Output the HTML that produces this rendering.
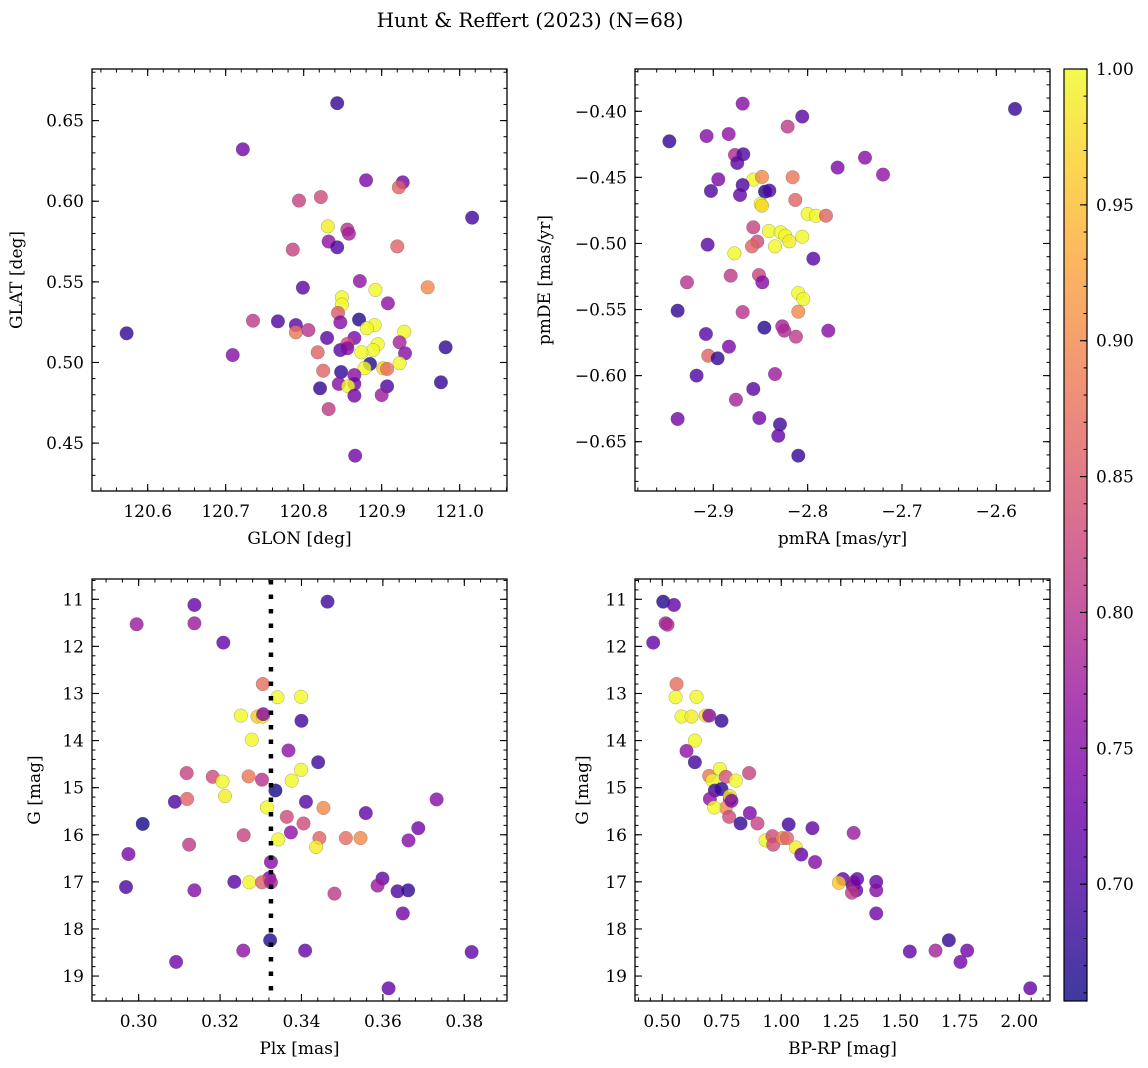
<!DOCTYPE html>
<html><head><meta charset="utf-8"><title>Hunt & Reffert (2023)</title>
<style>
html,body{margin:0;padding:0;background:#fff;}
svg{display:block;font-family:"DejaVu Serif","Liberation Serif",serif;}
</style></head>
<body>
<svg id="fig" width="1148" height="1068" viewBox="0 0 1148 1068" xmlns="http://www.w3.org/2000/svg">
<defs>
<linearGradient id="plasmaGrad" x1="0" y1="1" x2="0" y2="0">
<stop offset="0" stop-color="#0d0887"/><stop offset="0.1" stop-color="#41049d"/><stop offset="0.2" stop-color="#6a00a8"/><stop offset="0.3" stop-color="#8f0da4"/><stop offset="0.4" stop-color="#b12a90"/><stop offset="0.5" stop-color="#cc4778"/><stop offset="0.6" stop-color="#e16462"/><stop offset="0.7" stop-color="#f2844b"/><stop offset="0.8" stop-color="#fca636"/><stop offset="0.9" stop-color="#fcce25"/><stop offset="1" stop-color="#f0f921"/>
</linearGradient>
</defs>
<text x="530" y="27" text-anchor="middle" font-size="20" fill="#000">Hunt &amp; Reffert (2023) (N=68)</text>
</svg>
<script>
// ---- Panel 1: GLON vs GLAT ----
const p1Glon=[120.843,120.722,120.880,120.927,120.922,120.794,120.822,121.016,120.831,120.856,120.858,120.832,120.843,120.786,120.920,120.872,120.799,120.892,120.959,120.849,120.849,120.908,120.844,120.735,120.767,120.847,120.871,120.891,120.881,120.790,120.790,120.806,120.573,120.929,120.830,120.865,120.856,120.847,120.856,120.895,120.889,120.923,120.930,120.874,120.818,120.982,120.709,120.885,120.878,120.902,120.907,120.923,120.825,120.848,120.865,120.845,120.865,120.857,120.821,120.907,120.865,120.900,120.976,120.832,120.866];
const p1Glat=[0.6608,0.6322,0.613,0.6117,0.6086,0.6004,0.6026,0.5898,0.5844,0.5824,0.5799,0.575,0.5714,0.570,0.572,0.5505,0.5464,0.545,0.5466,0.5404,0.5359,0.5367,0.5307,0.5259,0.5255,0.5249,0.5266,0.5232,0.5212,0.5232,0.5187,0.5201,0.5181,0.5191,0.5152,0.5152,0.5115,0.5077,0.5088,0.5113,0.5077,0.5125,0.5057,0.5063,0.5063,0.5094,0.5046,0.4991,0.4964,0.4964,0.496,0.4995,0.4949,0.4941,0.4922,0.4867,0.4867,0.4852,0.484,0.4852,0.4794,0.4798,0.4877,0.4711,0.4422];
const p1Prob=[0.68,0.73,0.74,0.73,0.86,0.82,0.83,0.69,0.99,0.80,0.78,0.76,0.70,0.82,0.86,0.76,0.71,1.0,0.90,1.0,1.0,0.76,0.85,0.81,0.70,0.75,0.67,1.0,1.0,0.71,0.88,0.80,0.68,1.0,0.71,0.74,0.83,0.71,0.75,1.0,1.0,0.78,0.75,1.0,0.86,0.68,0.75,0.67,1.0,0.97,0.87,1.0,0.86,0.68,0.75,0.75,0.73,1.0,0.68,0.70,0.73,0.77,0.68,0.81,0.73];
const p1XTicks=[120.6,120.7,120.8,120.9,121.0];
const p1YTicks=[0.45,0.50,0.55,0.60,0.65];

// ---- Panel 2: pmRA vs pmDE ----
const p2PmRA=[-2.8689,-2.5802,-2.8057,-2.8212,-2.9466,-2.9071,-2.8837,-2.877,-2.8682,-2.8746,-2.7392,-2.7682,-2.7201,-2.8947,-2.8576,-2.8484,-2.8159,-2.8689,-2.9025,-2.8717,-2.8452,-2.8406,-2.8131,-2.8498,-2.8484,-2.8,-2.7912,-2.7806,-2.8576,-2.841,-2.8286,-2.8237,-2.8057,-2.8194,-2.8346,-2.8534,-2.859,-2.906,-2.8777,-2.794,-2.9279,-2.8816,-2.8516,-2.848,-2.8099,-2.8046,-2.8099,-2.9378,-2.8689,-2.8459,-2.8269,-2.8247,-2.8124,-2.7781,-2.9078,-2.8834,-2.9053,-2.8954,-2.9177,-2.8346,-2.8576,-2.876,-2.9378,-2.8512,-2.8293,-2.8311,-2.8099];
const p2PmDE=[-0.3942,-0.3982,-0.404,-0.4116,-0.4227,-0.4187,-0.4172,-0.433,-0.4325,-0.4391,-0.4351,-0.4426,-0.4479,-0.4515,-0.4517,-0.4497,-0.4499,-0.4558,-0.4603,-0.4633,-0.4608,-0.46,-0.4671,-0.4701,-0.4714,-0.4777,-0.479,-0.479,-0.4878,-0.4906,-0.4916,-0.4941,-0.4949,-0.4984,-0.5022,-0.4986,-0.5022,-0.5009,-0.5075,-0.5115,-0.5294,-0.5244,-0.5239,-0.5294,-0.5375,-0.542,-0.5516,-0.5509,-0.5519,-0.5637,-0.5627,-0.566,-0.5705,-0.566,-0.5685,-0.5781,-0.5849,-0.5869,-0.6,-0.5988,-0.6101,-0.6182,-0.6328,-0.6321,-0.6369,-0.6455,-0.6606];
const p2Prob=[0.75,0.68,0.71,0.81,0.68,0.75,0.76,0.79,0.70,0.71,0.75,0.74,0.76,0.74,1.0,0.90,0.88,0.70,0.70,0.72,0.67,0.70,0.86,1.0,0.97,1.0,1.0,0.86,0.82,1.0,1.0,1.0,1.0,0.99,1.0,0.83,0.86,0.71,1.0,0.71,0.80,0.81,0.82,0.75,1.0,1.0,0.90,0.68,0.80,0.67,0.78,0.79,0.81,0.75,0.71,0.74,0.86,0.68,0.70,0.77,0.71,0.78,0.73,0.73,0.69,0.72,0.68];
const p2XTicks=[-2.9,-2.8,-2.7,-2.6];
const p2YTicks=[-0.40,-0.45,-0.50,-0.55,-0.60,-0.65];

// ---- Panel 3: Plx vs G ----
const p3Plx=[0.3137,0.2995,0.3137,0.3208,0.3464,0.3305,0.3341,0.3399,0.3251,0.3292,0.3305,0.3306,0.3400,0.3278,0.3368,0.3441,0.3118,0.3182,0.3206,0.3270,0.3303,0.3376,0.3399,0.3336,0.3089,0.3119,0.3212,0.3411,0.3732,0.3454,0.3315,0.3558,0.3010,0.3364,0.3405,0.3374,0.3258,0.3343,0.3444,0.3509,0.3545,0.3687,0.3663,0.3436,0.3124,0.2975,0.3325,0.3321,0.3235,0.3272,0.3303,0.3325,0.2969,0.3137,0.3481,0.3599,0.3587,0.3636,0.3662,0.3649,0.3323,0.3257,0.3409,0.3818,0.3092,0.3614];
const p3G=[11.12,11.53,11.51,11.92,11.05,12.80,13.08,13.07,13.47,13.49,13.49,13.44,13.58,13.98,14.21,14.46,14.69,14.77,14.87,14.76,14.83,14.85,14.62,15.06,15.30,15.24,15.18,15.30,15.25,15.43,15.42,15.54,15.77,15.62,15.76,15.95,16.01,16.10,16.07,16.07,16.07,15.86,16.12,16.26,16.21,16.41,16.58,16.92,17.0,17.01,17.01,17.01,17.11,17.18,17.25,16.93,17.08,17.20,17.18,17.67,18.24,18.46,18.46,18.49,18.70,19.26];
const p3Prob=[0.72,0.77,0.77,0.72,0.69,0.87,1.0,1.0,1.0,0.96,0.99,0.75,0.69,1.0,0.76,0.69,0.82,0.83,1.0,0.88,0.80,1.0,1.0,0.66,0.70,0.86,0.99,0.71,0.75,0.90,1.0,0.72,0.66,0.83,0.83,0.76,0.82,1.0,0.86,0.87,0.90,0.73,0.75,0.99,0.81,0.74,0.75,0.74,0.71,1.0,0.86,0.78,0.70,0.75,0.81,0.72,0.77,0.70,0.68,0.73,0.67,0.76,0.72,0.72,0.73,0.72];
const p3XTicks=[0.30,0.32,0.34,0.36,0.38];
const p3YTicks=[11,12,13,14,15,16,17,18,19];
const plxMean=[0.3325];

// ---- Panel 4: BP-RP vs G ----
const p4BpRp=[0.504,0.549,0.514,0.522,0.462,0.56,0.556,0.644,0.581,0.623,0.683,0.697,0.749,0.637,0.602,0.637,0.865,0.697,0.742,0.767,0.711,0.809,0.749,0.721,0.784,0.70,0.784,0.767,0.718,0.781,0.829,0.868,0.90,1.031,1.131,1.304,0.934,0.963,0.966,1.005,1.024,1.061,1.084,1.142,1.259,1.242,1.301,1.315,1.304,1.297,1.319,1.399,1.399,1.399,1.540,1.648,1.704,1.753,1.781,2.046,0.791];
const p4G=[11.05,11.12,11.51,11.54,11.92,12.80,13.08,13.07,13.49,13.49,13.47,13.47,13.58,14.0,14.22,14.46,14.69,14.75,14.60,14.77,14.85,14.85,15.03,15.06,15.24,15.24,15.18,15.43,15.42,15.62,15.76,15.54,15.76,15.78,15.86,15.96,16.12,16.03,16.21,16.07,16.07,16.27,16.42,16.58,16.94,17.02,17.08,17.18,17.01,17.23,16.94,17.0,17.18,17.67,18.48,18.46,18.24,18.70,18.46,19.26,15.28];
const p4Prob=[0.67,0.72,0.78,0.79,0.72,0.87,1.0,1.0,1.0,0.99,0.98,0.75,0.68,1.0,0.76,0.69,0.82,0.88,1.0,0.84,1.0,1.0,0.67,0.69,0.72,0.76,0.98,0.90,1.0,0.83,0.68,0.74,0.82,0.69,0.72,0.77,1.0,0.83,0.83,0.90,0.86,0.99,0.72,0.75,0.72,0.96,0.68,0.72,0.78,0.81,0.72,0.72,0.75,0.73,0.72,0.78,0.68,0.73,0.73,0.72,0.74];
const p4XTicks=[0.50,0.75,1.00,1.25,1.50,1.75,2.00];
const p4YTicks=[11,12,13,14,15,16,17,18,19];

// ---- Colorbar ----
const cbarTicks=[0.70,0.75,0.80,0.85,0.90,0.95,1.00];
const cbarRange=[0.657,1.0];

const NS="http://www.w3.org/2000/svg";
const svg=document.getElementById('fig');
function mk(tag,attrs,parent){const e=document.createElementNS(NS,tag);for(const k in attrs)e.setAttribute(k,attrs[k]);(parent||svg).appendChild(e);return e;}
function lin(d0,d1,r0,r1){return v=>r0+(v-d0)/(d1-d0)*(r1-r0);}
const plasma=[[13,8,135],[65,4,157],[106,0,168],[143,13,164],[177,42,144],[204,71,120],[225,100,98],[242,132,75],[252,166,54],[252,206,37],[240,249,33]];
function cmap(v){let t=(v-cbarRange[0])/(cbarRange[1]-cbarRange[0]);t=Math.max(0,Math.min(1,t));const f=t*10;const i=Math.min(9,Math.floor(f));const u=f-i;const a=plasma[i],b=plasma[i+1];return 'rgb('+[0,1,2].map(k=>Math.round(a[k]+(b[k]-a[k])*u)).join(',')+')';}
function fmt(v,d){const s=Math.abs(v).toFixed(d);return (v<-1e-12?'\u2212':'')+s;}

function panel(id,box,xd,yd,xs,ys,cs,xt,yt,xdec,ydec,xminor,yminor,xlabel,ylabel,ylabelX){
  const g=mk('g',{});
  
  
  const sx=lin(xd[0],xd[1],box.x,box.x+box.w);
  const sy=lin(yd[0],yd[1],box.y,box.y+box.h);
  const cp=mk('clipPath',{id:id+'-clip'},g);
  mk('rect',{x:box.x,y:box.y,width:box.w,height:box.h},cp);
  const pts=mk('g',{'clip-path':'url(#'+id+'-clip)'},g);
  
  
  for(let i=0;i<xs.length;i++){
    const c=mk('circle',{cx:sx(xs[i]).toFixed(2),cy:sy(ys[i]).toFixed(2),r:6.8,fill:cmap(cs[i]),'fill-opacity':0.8,stroke:'#555','stroke-opacity':0.5,'stroke-width':0.5},pts);
    
    
  }
  const lo=Math.min(xd[0],xd[1]),hi=Math.max(xd[0],xd[1]);
  for(let k=Math.ceil(lo/xminor-1e-9);k<=Math.floor(hi/xminor+1e-9);k++){const x=sx(k*xminor);
    mk('line',{x1:x,x2:x,y1:box.y+box.h,y2:box.y+box.h-3.5,stroke:'#000','stroke-width':1},g);
    mk('line',{x1:x,x2:x,y1:box.y,y2:box.y+3.5,stroke:'#000','stroke-width':1},g);}
  const ylo=Math.min(yd[0],yd[1]),yhi=Math.max(yd[0],yd[1]);
  for(let k=Math.ceil(ylo/yminor-1e-9);k<=Math.floor(yhi/yminor+1e-9);k++){const y=sy(k*yminor);
    mk('line',{x1:box.x,x2:box.x+3.5,y1:y,y2:y,stroke:'#000','stroke-width':1},g);
    mk('line',{x1:box.x+box.w,x2:box.x+box.w-3.5,y1:y,y2:y,stroke:'#000','stroke-width':1},g);}
  xt.forEach(v=>{const x=sx(v);
    mk('line',{x1:x,x2:x,y1:box.y+box.h,y2:box.y+box.h-7,stroke:'#000','stroke-width':1.1},g);
    mk('line',{x1:x,x2:x,y1:box.y,y2:box.y+7,stroke:'#000','stroke-width':1.1},g);
    const t=mk('text',{x:x,y:box.y+box.h+26,'text-anchor':'middle','font-size':17,fill:'#000'},g);t.textContent=fmt(v,xdec);
    
    });
  yt.forEach(v=>{const y=sy(v);
    mk('line',{x1:box.x,x2:box.x+7,y1:y,y2:y,stroke:'#000','stroke-width':1.1},g);
    mk('line',{x1:box.x+box.w,x2:box.x+box.w-7,y1:y,y2:y,stroke:'#000','stroke-width':1.1},g);
    const t=mk('text',{x:box.x-8,y:y+6,'text-anchor':'end','font-size':17,fill:'#000'},g);t.textContent=fmt(v,ydec);
    
    });
  const sp=mk('rect',{x:box.x,y:box.y,width:box.w,height:box.h,fill:'none',stroke:'#000','stroke-width':1.3},g);
  
  
  const xl=mk('text',{x:box.x+box.w/2,y:box.y+box.h+53,'text-anchor':'middle','font-size':17,fill:'#000'},g);xl.textContent=xlabel;
  
  
  const yl=mk('text',{x:ylabelX,y:box.y+box.h/2,'text-anchor':'middle','font-size':17,fill:'#000',transform:'rotate(-90 '+ylabelX+' '+(box.y+box.h/2)+')'},g);yl.textContent=ylabel;
  
  
  return {sx,sy,g};
}

panel('glon-glat-panel',{x:92,y:69,w:415,h:422},[120.5286,121.0607],[0.682,0.4203],p1Glon,p1Glat,p1Prob,p1XTicks,p1YTicks,1,2,0.02,0.01,'GLON [deg]','GLAT [deg]',22);
panel('pm-panel',{x:635,y:69,w:415,h:422},[-2.983,-2.5431],[-0.368,-0.6873],p2PmRA,p2PmDE,p2Prob,p2XTicks,p2YTicks,1,2,0.02,0.01,'pmRA [mas/yr]','pmDE [mas/yr]',550);
const P3=panel('plx-g-panel',{x:92,y:579,w:415,h:422},[0.28854,0.39049],[10.569,19.53],p3Plx,p3G,p3Prob,p3XTicks,p3YTicks,2,0,0.004,0.2,'Plx [mas]','G [mag]',40);
panel('cmd-panel',{x:635,y:579,w:415,h:422},[0.3855,2.129],[10.569,19.53],p4BpRp,p4G,p4Prob,p4XTicks,p4YTicks,2,0,0.05,0.2,'BP-RP [mag]','G [mag]',588);

plxMean.forEach(v=>{const x=P3.sx(v);
  const l=mk('line',{x1:x,x2:x,y1:580,y2:1001,stroke:'#000','stroke-width':4.5,'stroke-dasharray':'4.5 10'},P3.g);
  
  });

const cb=mk('g',{});


const cbx=1064,cby=69,cbw=23,cbh=932;
const cbs=lin(cbarRange[0],cbarRange[1],cby+cbh,cby);
const cbr=mk('rect',{x:cbx,y:cby,width:cbw,height:cbh,fill:'url(#plasmaGrad)','fill-opacity':0.8},cb);


mk('rect',{x:cbx,y:cby,width:cbw,height:cbh,fill:'none',stroke:'#000','stroke-width':1.2},cb);
for(let k=Math.ceil(cbarRange[0]/0.01);k<=Math.floor(cbarRange[1]/0.01+1e-9);k++){const y=cbs(k*0.01);
  mk('line',{x1:cbx+cbw,x2:cbx+cbw-3.5,y1:y,y2:y,stroke:'#000','stroke-width':1},cb);}
cbarTicks.forEach(v=>{const y=cbs(v);
  mk('line',{x1:cbx+cbw,x2:cbx+cbw-7,y1:y,y2:y,stroke:'#000','stroke-width':1.1},cb);
  const t=mk('text',{x:cbx+cbw+9,y:y+6,'font-size':17,fill:'#000'},cb);t.textContent=v.toFixed(2);
  
  });
</script>
</body></html>
